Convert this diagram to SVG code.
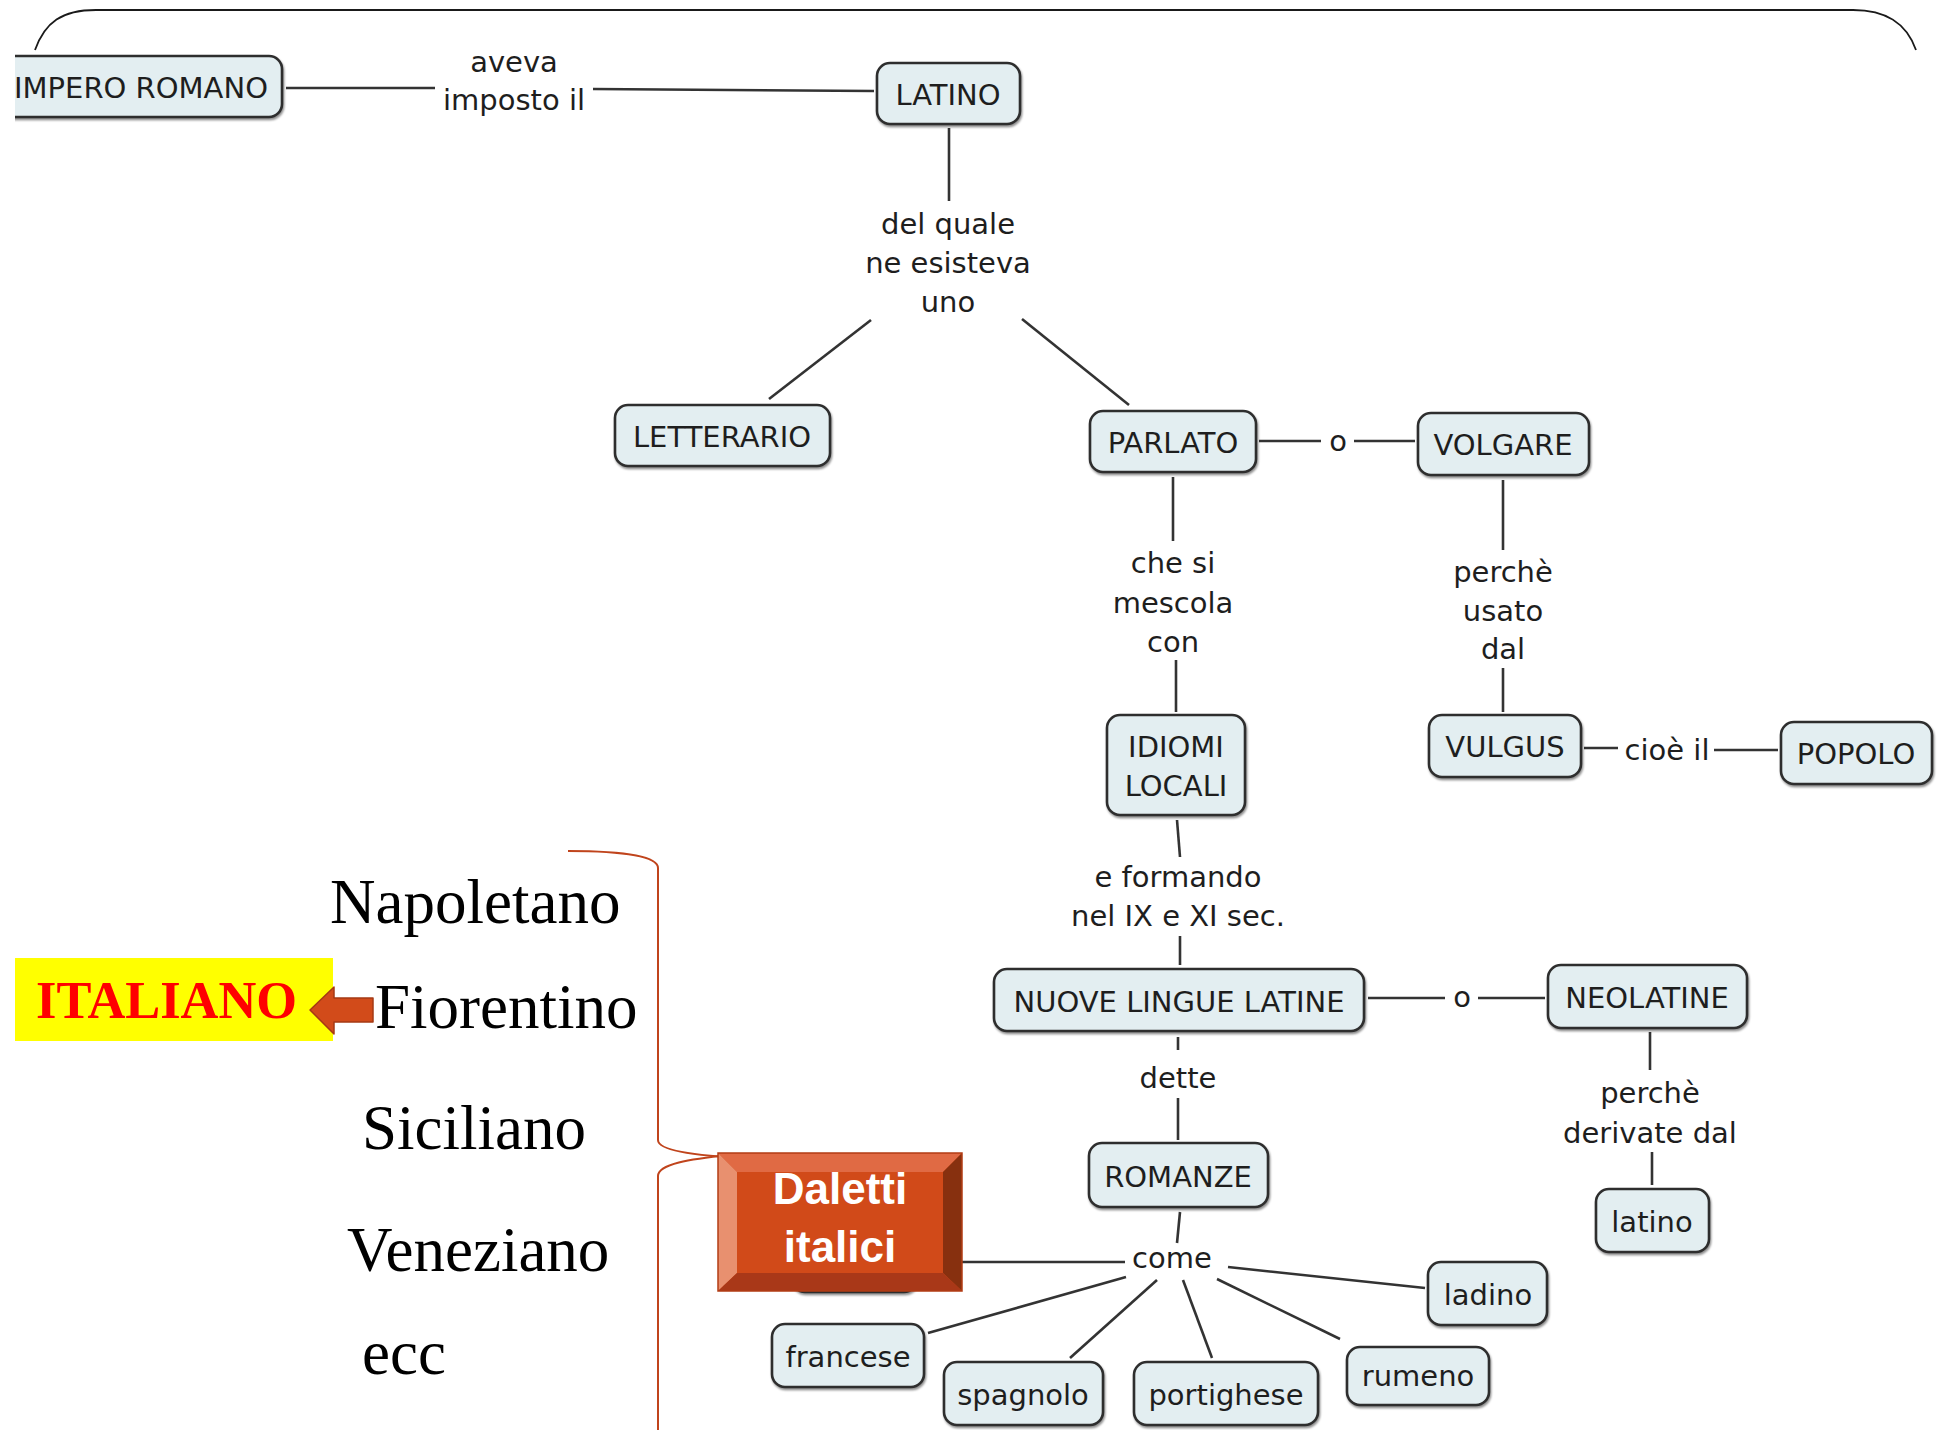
<svg xmlns="http://www.w3.org/2000/svg" width="1939" height="1430" viewBox="0 0 1939 1430">
  <style>
    .box { fill: #e3eef1; stroke: #2e2e2e; stroke-width: 2.6; filter: drop-shadow(1px 2px 1px rgba(0,0,0,0.45)); }
    .t { font-family: "DejaVu Sans", Verdana, sans-serif; font-size: 29px; fill: #1e1e1e; text-anchor: middle; }
    .conn line, .conn path { stroke: #333; stroke-width: 2.6; fill: none; }
    .dial { font-family: "Liberation Serif", "Times New Roman", serif; font-size: 63px; fill: #000; }
  </style>
  <defs>
    <clipPath id="mapEdge">
      <rect x="15" y="0" width="1924" height="1430"/>
    </clipPath>
  </defs>

  <rect width="1939" height="1430" fill="#ffffff"/>

  <!-- slide frame (rounded top corners) -->
  <path d="M35,50 C45,22 62,10 96,10 L1853,10 C1885,10 1906,22 1916,50" fill="none" stroke="#1a1a1a" stroke-width="1.8"/>

  <!-- connectors -->
  <g id="connectors" class="conn">
    <line x1="286" y1="88" x2="435" y2="88"/>
    <line x1="593" y1="89" x2="874" y2="91"/>
    <line x1="949" y1="128" x2="949" y2="201"/>
    <line x1="871" y1="320" x2="769" y2="399"/>
    <line x1="1022" y1="319" x2="1129" y2="405"/>
    <line x1="1259" y1="441" x2="1321" y2="441"/>
    <line x1="1354" y1="441" x2="1415" y2="441"/>
    <line x1="1173" y1="477" x2="1173" y2="541"/>
    <line x1="1176" y1="660" x2="1176" y2="712"/>
    <line x1="1503" y1="480" x2="1503" y2="550"/>
    <line x1="1503" y1="668" x2="1503" y2="712"/>
    <line x1="1584" y1="748" x2="1618" y2="748"/>
    <line x1="1714" y1="750" x2="1778" y2="750"/>
    <line x1="1177" y1="820" x2="1180" y2="857"/>
    <line x1="1180" y1="936" x2="1180" y2="965"/>
    <line x1="1368" y1="998" x2="1445" y2="998"/>
    <line x1="1478" y1="998" x2="1545" y2="998"/>
    <line x1="1650" y1="1032" x2="1650" y2="1070"/>
    <line x1="1652" y1="1152" x2="1652" y2="1185"/>
    <line x1="1178" y1="1037" x2="1178" y2="1050"/>
    <line x1="1178" y1="1098" x2="1178" y2="1140"/>
    <line x1="1180" y1="1212" x2="1177" y2="1243"/>
    <line x1="1125" y1="1262" x2="917" y2="1262"/>
    <line x1="1228" y1="1267" x2="1425" y2="1288"/>
    <line x1="1126" y1="1277" x2="928" y2="1333"/>
    <line x1="1157" y1="1280" x2="1070" y2="1358"/>
    <line x1="1183" y1="1280" x2="1212" y2="1358"/>
    <line x1="1217" y1="1279" x2="1340" y2="1339"/>
  </g>

  <!-- linking phrases -->
  <g id="linking-phrases">
    <text class="t" x="514" y="72">aveva</text>
    <text class="t" x="514" y="110">imposto il</text>
    <text class="t" x="948" y="234">del quale</text>
    <text class="t" x="948" y="273">ne esisteva</text>
    <text class="t" x="948" y="312">uno</text>
    <text class="t" x="1338" y="451">o</text>
    <text class="t" x="1173" y="573">che si</text>
    <text class="t" x="1173" y="613">mescola</text>
    <text class="t" x="1173" y="652">con</text>
    <text class="t" x="1503" y="582">perchè</text>
    <text class="t" x="1503" y="621">usato</text>
    <text class="t" x="1503" y="659">dal</text>
    <text class="t" x="1667" y="760">cioè il</text>
    <text class="t" x="1178" y="887">e formando</text>
    <text class="t" x="1178" y="926">nel IX e XI sec.</text>
    <text class="t" x="1462" y="1007">o</text>
    <text class="t" x="1650" y="1103">perchè</text>
    <text class="t" x="1650" y="1143">derivate dal</text>
    <text class="t" x="1178" y="1088">dette</text>
    <text class="t" x="1172" y="1268">come</text>
  </g>

  <!-- concepts -->
  <g id="impero-romano" clip-path="url(#mapEdge)">
    <rect class="box" x="-4" y="56" width="286" height="61" rx="13"/>
    <text class="t" x="141" y="98">IMPERO ROMANO</text>
  </g>
  <g id="latino">
    <rect class="box" x="877" y="63" width="143" height="61" rx="13"/>
    <text class="t" x="948" y="105">LATINO</text>
  </g>
  <g id="letterario">
    <rect class="box" x="615" y="405" width="215" height="61" rx="13"/>
    <text class="t" x="722" y="447">LETTERARIO</text>
  </g>
  <g id="parlato">
    <rect class="box" x="1090" y="411" width="166" height="61" rx="13"/>
    <text class="t" x="1173" y="453">PARLATO</text>
  </g>
  <g id="volgare">
    <rect class="box" x="1418" y="413" width="171" height="62" rx="13"/>
    <text class="t" x="1503" y="455">VOLGARE</text>
  </g>
  <g id="idiomi-locali">
    <rect class="box" x="1107" y="715" width="138" height="100" rx="13"/>
    <text class="t" x="1176" y="757">IDIOMI</text>
    <text class="t" x="1176" y="796">LOCALI</text>
  </g>
  <g id="vulgus">
    <rect class="box" x="1429" y="715" width="152" height="62" rx="13"/>
    <text class="t" x="1505" y="757">VULGUS</text>
  </g>
  <g id="popolo">
    <rect class="box" x="1781" y="722" width="151" height="62" rx="13"/>
    <text class="t" x="1856" y="764">POPOLO</text>
  </g>
  <g id="nuove-lingue-latine">
    <rect class="box" x="994" y="969" width="370" height="62" rx="13"/>
    <text class="t" x="1179" y="1012">NUOVE LINGUE LATINE</text>
  </g>
  <g id="neolatine">
    <rect class="box" x="1548" y="965" width="199" height="63" rx="13"/>
    <text class="t" x="1647" y="1008">NEOLATINE</text>
  </g>
  <g id="latino-minuscolo">
    <rect class="box" x="1596" y="1189" width="113" height="63" rx="13"/>
    <text class="t" x="1652" y="1232">latino</text>
  </g>
  <g id="romanze">
    <rect class="box" x="1089" y="1143" width="179" height="64" rx="13"/>
    <text class="t" x="1178" y="1187">ROMANZE</text>
  </g>
  <g id="ladino">
    <rect class="box" x="1428" y="1262" width="119" height="63" rx="13"/>
    <text class="t" x="1488" y="1305">ladino</text>
  </g>
  <g id="francese">
    <rect class="box" x="772" y="1324" width="152" height="63" rx="13"/>
    <text class="t" x="848" y="1367">francese</text>
  </g>
  <g id="spagnolo">
    <rect class="box" x="944" y="1362" width="159" height="63" rx="13"/>
    <text class="t" x="1023" y="1405">spagnolo</text>
  </g>
  <g id="portighese">
    <rect class="box" x="1134" y="1362" width="184" height="63" rx="13"/>
    <text class="t" x="1226" y="1405">portighese</text>
  </g>
  <g id="rumeno">
    <rect class="box" x="1347" y="1347" width="142" height="58" rx="13"/>
    <text class="t" x="1418" y="1386">rumeno</text>
  </g>
  <g id="concetto-coperto">
    <rect class="box" x="792" y="1230" width="125" height="62" rx="13"/>
  </g>

  <!-- dialect list with brace -->
  <g id="dialetti">
    <text class="dial" x="330" y="923">Napoletano</text>
    <text class="dial" x="375" y="1028">Fiorentino</text>
    <text class="dial" x="362" y="1149">Siciliano</text>
    <text class="dial" x="347" y="1271">Veneziano</text>
    <text class="dial" x="362" y="1374">ecc</text>
  </g>
  <g id="graffa" fill="none" stroke="#c0441c" stroke-width="2">
    <path d="M568,851 C626,851 658,857 658,868 L658,1140 C658,1151 695,1156 750,1158"/>
    <path d="M729,1155 C690,1159 658,1164 658,1176 L658,1430"/>
  </g>

  <!-- Italiano highlight and arrow -->
  <g id="italiano">
    <rect x="15" y="958" width="318" height="83" fill="#ffff00"/>
    <text x="36" y="1018" font-family="'Liberation Serif', 'Times New Roman', serif" font-size="52" font-weight="bold" fill="#ff0000" textLength="261" lengthAdjust="spacingAndGlyphs">ITALIANO</text>
  </g>
  <g id="freccia">
    <polygon points="310,1010 334,987 334,998 373,998 373,1022 334,1022 334,1034" fill="#d24b1a" stroke="#a53a14" stroke-width="1.5" stroke-linejoin="round"/>
  </g>

  <!-- bevelled button -->
  <g id="dialetti-italici">
    <rect x="718" y="1153" width="244" height="138" fill="#d14a19"/>
    <polygon points="718,1153 962,1153 943,1172 737,1172" fill="#e06a44"/>
    <polygon points="718,1153 737,1172 737,1273 718,1291" fill="#e8906f"/>
    <polygon points="962,1153 962,1291 943,1273 943,1172" fill="#87300f"/>
    <polygon points="718,1291 737,1273 943,1273 962,1291" fill="#a93818"/>
    <rect x="718" y="1153" width="244" height="138" fill="none" stroke="#b23c15" stroke-width="1.5"/>
    <text x="840" y="1204" font-family="'Liberation Sans', Arial, sans-serif" font-size="44" font-weight="bold" fill="#ffffff" text-anchor="middle">Daletti</text>
    <text x="840" y="1262" font-family="'Liberation Sans', Arial, sans-serif" font-size="44" font-weight="bold" fill="#ffffff" text-anchor="middle">italici</text>
  </g>
</svg>
